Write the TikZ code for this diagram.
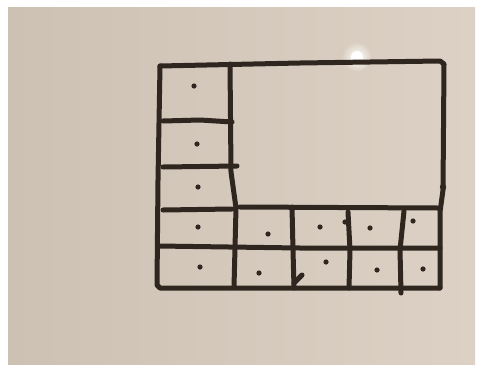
\documentclass[tikz,border=0pt]{standalone}
\begin{document}
\begin{tikzpicture}[x=1pt,y=-1pt,
  ink/.style={line width=5pt,color=inkc,line cap=round,line join=round},
  dotc/.style={fill=inkc,draw=none}]
\definecolor{inkc}{RGB}{48,38,32}
\definecolor{boardL}{RGB}{205,193,180}
\definecolor{boardR}{RGB}{220,209,196}
\useasboundingbox (0,0) rectangle (478,364);
\fill[white] (0,0) rectangle (478,364);
\shade[left color=boardL,right color=boardR] (8,7) rectangle (475,364);
% glare
\shade[inner color=white,outer color=boardR] (357,57) circle (14);
\fill[white] (357,57) circle (6);
% outer frame
\draw[ink] (160,66) -- (300,63) -- (440,61) -- (444,64) -- (443,190) -- (440,212) -- (440,288);
\draw[ink] (160,66) -- (158,180) -- (157,285) -- (160,288) -- (300,288) -- (440,288);
% left column
\draw[ink] (230,64) -- (231,172) -- (236,208) -- (234,287);
\draw[ink] (163,121) -- (200,120) -- (232,122);
\draw[ink] (163,167) -- (237,166);
\draw[ink] (163,210) -- (232,209);
\draw[ink] (240,207) -- (438,208);
\draw[ink] (158,246) -- (300,248) -- (440,248);
% bottom row verticals
\draw[ink] (292,207) -- (293,250) -- (294,288);
\draw[ink] (348,212) -- (350,250) -- (349,288);
\draw[ink] (404,211) -- (400,250) -- (401,293);
\draw[ink] (294,283) -- (302,275);
% blobs
\fill[dotc] (443,187) circle (3.2);
\fill[dotc] (345,222) circle (2.6);
% dots
\foreach \p in {(194,86),(197,144),(198,187),(198,227),(200,267),
  (268,234),(259,273),(320,227),(326,262),(370,228),(377,270),(413,221),(423,269)}
  \fill[dotc] \p circle (2.6);
\end{tikzpicture}
\end{document}
